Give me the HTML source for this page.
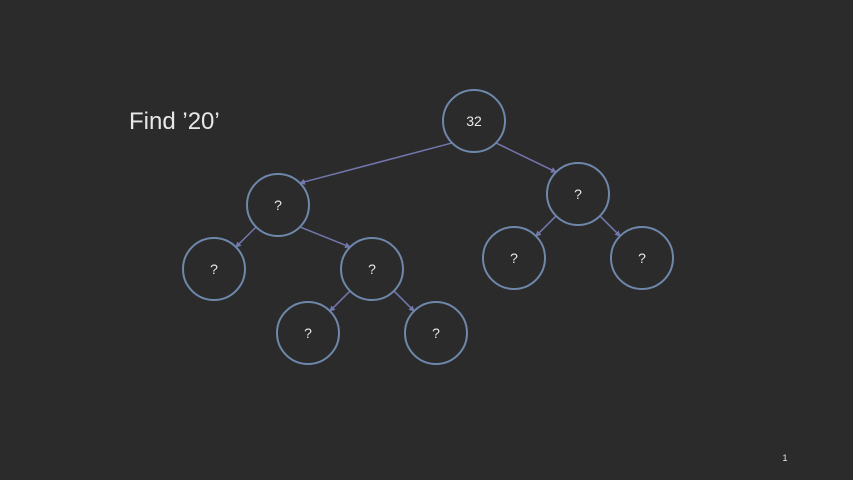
<!DOCTYPE html>
<html><head><meta charset="utf-8"><style>
html,body{margin:0;padding:0;background:#2b2b2b;}
svg{display:block}
text{font-family:"Liberation Sans",sans-serif;fill:#e8e8e8}
</style></head><body>
<svg width="853" height="480" viewBox="0 0 853 480">
<defs><marker id="ah" markerWidth="6" markerHeight="6" refX="5" refY="3" orient="auto" markerUnits="userSpaceOnUse"><path d="M0,0 L6,3 L0,6 z" fill="#7377ae"/></marker></defs>
<rect width="853" height="480" fill="#2b2b2b"/>
<text x="129" y="129" font-size="24">Find ’20’</text>
<text x="785" y="461" font-size="9" text-anchor="middle">1</text>
<g id="edges"></g><g id="nodes"></g>
</svg>
<script>
const nodeLabels=["32","?","?","?","?","?","?","?","?"];
const nodeX=[474,278,578,214,372,514,642,308,436];
const nodeY=[121,205,194,269,269,258,258,333,333];
const edgeFrom=[0,0,1,1,2,2,4,4];
const edgeTo=[1,2,3,4,5,6,7,8];
const R=31,ns="http://www.w3.org/2000/svg",k=0.7071;
const eg=document.getElementById('edges'),ng=document.getElementById('nodes');
edgeFrom.forEach((a,i)=>{const b=edgeTo[i];
 const s=Math.sign(nodeX[b]-nodeX[a]);
 const l=document.createElementNS(ns,'line');
 l.setAttribute('x1',nodeX[a]+s*R*k);l.setAttribute('y1',nodeY[a]+R*k);
 l.setAttribute('x2',nodeX[b]-s*R*k);l.setAttribute('y2',nodeY[b]-R*k);
 l.setAttribute('stroke','#7377ae');l.setAttribute('stroke-width','1.5');l.setAttribute('marker-end','url(#ah)');
 
 
 eg.appendChild(l);});
nodeLabels.forEach((t,i)=>{
 const c=document.createElementNS(ns,'circle');
 c.setAttribute('cx',nodeX[i]);c.setAttribute('cy',nodeY[i]);c.setAttribute('r',R);
 c.setAttribute('fill','none');c.setAttribute('stroke','#6e88ab');c.setAttribute('stroke-width','2');
 
 
 ng.appendChild(c);
 const tx=document.createElementNS(ns,'text');
 tx.setAttribute('x',nodeX[i]);tx.setAttribute('y',nodeY[i]+5);tx.setAttribute('text-anchor','middle');tx.setAttribute('font-size','14');
 tx.textContent=t;
 
 
 ng.appendChild(tx);});
</script>
</body></html>
